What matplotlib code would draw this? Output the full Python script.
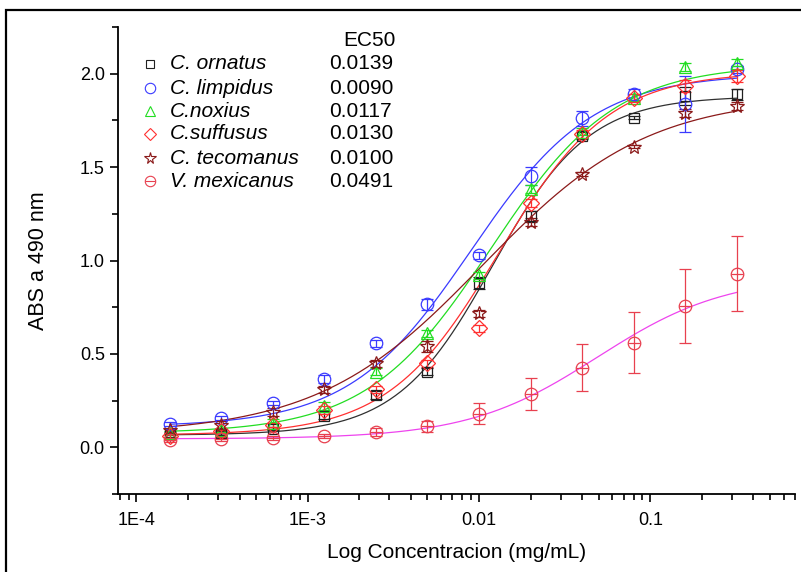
import numpy as np
import matplotlib
matplotlib.use("Agg")
import matplotlib.pyplot as plt
from matplotlib.patches import Rectangle
from matplotlib.ticker import MultipleLocator, FixedLocator, FixedFormatter, LogLocator, NullFormatter

plt.rcParams['font.family'] = ['Liberation Sans', 'DejaVu Sans']

# concentraciones (dilucion 1:2 desde 0.32 mg/mL)
conc = [0.00015625, 0.0003125, 0.000625, 0.00125, 0.0025, 0.005,
        0.01, 0.02, 0.04, 0.08, 0.16, 0.32]

names = ["C. ornatus", "C. limpidus", "C.noxius", "C.suffusus", "C. tecomanus", "V. mexicanus"]
ec50_labels = ["0.0139", "0.0090", "0.0117", "0.0130", "0.0100", "0.0491"]

ornatus = [0.065, 0.075, 0.10, 0.17, 0.28, 0.405, 0.88, 1.236, 1.668, 1.765, 1.88, 1.89]
limpidus = [0.125, 0.155, 0.237, 0.365, 0.557, 0.766, 1.027, 1.453, 1.762, 1.89, 1.837, 2.023]
noxius = [0.075, 0.09, 0.13, 0.22, 0.405, 0.61, 0.92, 1.383, 1.69, 1.872, 2.036, 2.059]
suffusus = [0.06, 0.085, 0.12, 0.20, 0.31, 0.45, 0.637, 1.307, 1.677, 1.87, 1.934, 1.988]
tecomanus = [0.09, 0.12, 0.19, 0.31, 0.45, 0.54, 0.717, 1.205, 1.464, 1.61, 1.79, 1.828]
mexicanus = [0.04, 0.045, 0.05, 0.059, 0.082, 0.112, 0.18, 0.285, 0.427, 0.56, 0.756, 0.93]

ornatus_err = [0.01, 0.01, 0.01, 0.02, 0.02, 0.02, 0.03, 0.03, 0.02, 0.01, 0.05, 0.03]
limpidus_err = [0.01, 0.01, 0.01, 0.02, 0.02, 0.03, 0.02, 0.05, 0.04, 0.03, 0.15, 0.02]
noxius_err = [0.01, 0.01, 0.02, 0.02, 0.02, 0.02, 0.02, 0.02, 0.02, 0.02, 0.02, 0.02]
suffusus_err = [0.01, 0.01, 0.01, 0.02, 0.02, 0.02, 0.02, 0.02, 0.02, 0.02, 0.03, 0.03]
tecomanus_err = [0.01, 0.02, 0.02, 0.02, 0.02, 0.03, 0.02, 0.02, 0.01, 0.01, 0.02, 0.02]
mexicanus_err = [0.01, 0.01, 0.01, 0.01, 0.02, 0.03, 0.056, 0.087, 0.128, 0.162, 0.197, 0.203]

# parametros de ajuste logistico (Origin): bottom, top, x0, p
fit_bottom = [0.065, 0.11, 0.075, 0.065, 0.07, 0.045]
fit_top = [1.88, 2.0, 2.05, 2.01, 1.88, 0.92]
fit_x0 = [0.012, 0.009, 0.0117, 0.013, 0.0105, 0.0491]
fit_p = [1.55, 1.22, 1.2, 1.35, 0.9, 1.15]

values = [ornatus, limpidus, noxius, suffusus, tecomanus, mexicanus]
errors = [ornatus_err, limpidus_err, noxius_err, suffusus_err, tecomanus_err, mexicanus_err]
markers = ['s', 'o', '^', 'D', '*', 'o']
msizes = [7, 9, 9, 8, 10, 9]
colors = ['#202020', '#3a3aff', '#22dd22', '#ff3030', '#8b1a1a', '#e8404f']
line_colors = ['#303030', '#3a3aff', '#22dd22', '#ff3030', '#8b1a1a', '#ee44ee']

fig = plt.figure(figsize=(8.01, 5.72), dpi=100)
ax = fig.add_axes([118 / 801, 78 / 572, 677 / 801, 467 / 572])

xfit = np.logspace(np.log10(conc[0]), np.log10(conc[-1]), 300)
for i in range(len(names)):
    yfit = fit_top[i] + (fit_bottom[i] - fit_top[i]) / (1 + (xfit / fit_x0[i]) ** fit_p[i])
    ax.plot(xfit, yfit, color=line_colors[i], lw=0.9, zorder=2)

for i in range(len(names)):
    ax.errorbar(conc, values[i], yerr=errors[i], fmt='none', ecolor=colors[i],
                elinewidth=0.9, capsize=4, capthick=0.9, zorder=3)
    ax.plot(conc, values[i], linestyle='none', marker=markers[i], ms=msizes[i],
            mfc='none', mec=colors[i], mew=0.9, zorder=4)
    if i == 5:
        ax.plot(conc, values[i], linestyle='none', marker='_', ms=msizes[i],
                mec=colors[i], mew=0.9, zorder=4)

# leyenda manual con EC50
row_y = [0.921, 0.869, 0.820, 0.771, 0.719, 0.670]
ax.text(0.371, 0.972, "EC50", transform=ax.transAxes, ha='center', va='center', fontsize=15)
for i in range(len(names)):
    ax.plot([0.047], [row_y[i]], transform=ax.transAxes, linestyle='none', marker=markers[i],
            ms=msizes[i] - 1.5, mfc='none', mec=colors[i], mew=0.8, clip_on=False)
    if i == 5:
        ax.plot([0.047], [row_y[i]], transform=ax.transAxes, linestyle='none', marker='_',
                ms=msizes[i] - 1.5, mec=colors[i], mew=0.8, clip_on=False)
    ax.text(0.077, row_y[i], names[i], transform=ax.transAxes, ha='left', va='center',
            fontsize=15, style='italic')
    ax.text(0.312, row_y[i], ec50_labels[i], transform=ax.transAxes, ha='left', va='center',
            fontsize=15)

ax.set_xscale('log')
ax.set_xlim(7.8e-5, 0.7)
ax.set_ylim(-0.25, 2.25)
ax.xaxis.set_major_locator(FixedLocator([1e-4, 1e-3, 1e-2, 1e-1]))
ax.xaxis.set_major_formatter(FixedFormatter(["1E-4", "1E-3", "0.01", "0.1"]))
ax.xaxis.set_minor_locator(LogLocator(base=10, subs=np.arange(2, 10)))
ax.xaxis.set_minor_formatter(NullFormatter())
ax.yaxis.set_major_locator(MultipleLocator(0.5))
ax.yaxis.set_minor_locator(MultipleLocator(0.25))
ax.yaxis.set_major_formatter(matplotlib.ticker.FormatStrFormatter('%.1f'))

for s in ['top', 'right']:
    ax.spines[s].set_visible(False)
for s in ['left', 'bottom']:
    ax.spines[s].set_linewidth(1.3)
ax.tick_params(which='major', direction='out', length=6, width=1.2, labelsize=13)
ax.tick_params(axis='x', which='major', pad=7)
ax.tick_params(which='minor', direction='out', length=4, width=1.2)

ax.set_xlabel("Log Concentracion (mg/mL)", fontsize=15, labelpad=10)
ax.set_ylabel("ABS a 490 nm", fontsize=15.5, labelpad=22)

# marco exterior
fig.patches.append(Rectangle((6 / 801, -0.05), 1.0, 1 - 10 / 572 + 0.05, transform=fig.transFigure,
                             fill=False, lw=1.6, ec='black'))

fig.savefig("out.png", dpi=100)
